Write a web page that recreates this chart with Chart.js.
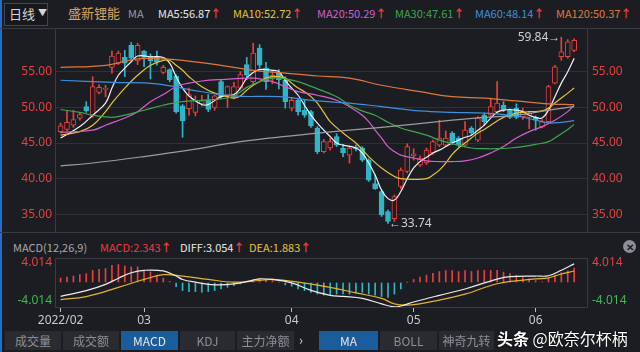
<!DOCTYPE html>
<html>
<head>
<meta charset="utf-8">
<script src="https://cdn.jsdelivr.net/npm/chart.js@4.4.0/dist/chart.umd.min.js"></script>
<style>
  html, body { margin: 0; padding: 0; background: #1c1d22; }
  #wrap { position: relative; width: 640px; height: 352px; overflow: hidden; background: #1c1d22;
          font-family: "Noto Sans CJK SC", "Noto Sans", sans-serif; }
  canvas { position: absolute; left: 0; }
  .t { position: absolute; white-space: nowrap; font-size: 11px; line-height: 14px; }
  .up { color: #ee3b3b; font-weight: bold; }
  .hl { position: absolute; height: 1px; background: #3a3b40; }
  .tab { position: absolute; top: 331px; height: 19px; line-height: 19px; text-align: center;
         background: #2a2b30; color: #8e8f95; font-size: 12px; }
  .tab.on { background: #1b5c9c; color: #e6e6e6; }
</style>
</head>
<body>
<div id="wrap">
  <div style="position:absolute;left:0;top:0;width:2px;height:352px;background:#2b6cc0"></div>

  <!-- 顶部 MA 信息栏 -->
  <div style="position:absolute;left:4px;top:3px;width:42px;height:21px;border:1px solid #45464c;background:#17181c"></div>
  <div class="t" style="left:9px;top:5px;font-size:13px;line-height:17px;color:#d6d6d6">日线</div>
  <div class="t" style="left:38px;top:6px;font-size:9px;color:#d6d6d6">▼</div>
  <div class="t" style="left:68px;top:5px;font-size:13px;line-height:16px;color:#d9a35f">盛新锂能</div>
  <div class="t" style="left:128px;top:6px;color:#9a9aa0">MA</div>
  <div class="t" style="left:158px;top:6px;color:#e8e8e8">MA5:56.87<span class="up">↑</span></div>
  <div class="t" style="left:233px;top:6px;color:#e6c23a">MA10:52.72<span class="up">↑</span></div>
  <div class="t" style="left:317px;top:6px;color:#d35fd0">MA20:50.29<span class="up">↑</span></div>
  <div class="t" style="left:395px;top:6px;color:#3ea64c">MA30:47.61<span class="up">↑</span></div>
  <div class="t" style="left:475px;top:6px;color:#3f8fdc">MA60:48.14<span class="up">↑</span></div>
  <div class="t" style="left:556px;top:6px;color:#e0773c">MA120:50.37<span class="up">↑</span></div>

  <div class="hl" style="left:0;top:28px;width:640px"></div>
  <canvas id="kChart" width="640" height="204" style="top:28px"></canvas>
  <div class="hl" style="left:0;top:232px;width:640px"></div>

  <!-- MACD 信息栏 -->
  <div class="t" style="left:13px;top:240px;color:#a9a9ae">MACD(12,26,9)</div>
  <div class="t" style="left:100px;top:240px;color:#ee3b3b">MACD:2.343<span class="up">↑</span></div>
  <div class="t" style="left:180px;top:240px;color:#e8e8e8">DIFF:3.054<span class="up">↑</span></div>
  <div class="t" style="left:249px;top:240px;color:#e6c23a">DEA:1.883<span class="up">↑</span></div>
  <div style="position:absolute;left:623px;top:240px;width:13px;height:13px;border-radius:7px;background:#8e8f95;color:#1c1d22;font-size:10px;line-height:13px;text-align:center;font-weight:bold">✕</div>

  <div class="hl" style="left:55px;top:258px;width:532px"></div>
  <canvas id="macdChart" width="640" height="72" style="top:256px"></canvas>

  <!-- 底部指标切换栏 -->
  <div class="tab" style="left:5px;width:56px">成交量</div>
  <div class="tab" style="left:63px;width:56px">成交额</div>
  <div class="tab on" style="left:121px;width:57px">MACD</div>
  <div class="tab" style="left:180px;width:55px">KDJ</div>
  <div class="tab" style="left:237px;width:57px">主力净额</div>
  <div class="t" style="left:299px;top:333px;font-size:13px;color:#d0d0d0">›</div>
  <div class="tab on" style="left:319px;width:59px">MA</div>
  <div class="tab" style="left:380px;width:57px">BOLL</div>
  <div class="tab" style="left:439px;width:55px">神奇九转</div>
  <div class="t" style="left:497px;top:328px;font-size:16px;line-height:20px;color:#ffffff;text-shadow:0 0 2px #000"><b>头条</b> @欧奈尔杯柄</div>
</div>

<script>
// K线数据（从图上读取，2022/02/10 起共 81 根）
const opens = [46.6,46.9,47.5,48.5,50.1,48.9,52.1,52.5,55.6,56.2,57.0,58.7,56.5,57.9,57.2,57.1,54.9,55.3,54.4,50.2,
  49.8,49.3,50.5,51.0,50.0,53.6,51.7,51.5,52.7,56.0,53.6,58.3,55.5,54.1,54.8,53.8,49.9,51.0,49.6,49.4,
  47.1,43.8,44.3,45.9,44.3,43.3,44.4,44.3,42.6,39.3,38.2,35.4,34.4,38.9,41.0,43.2,41.9,42.2,43.6,44.7,
  44.7,46.4,45.7,44.7,47.1,45.4,48.9,48.9,49.4,50.3,49.6,49.9,48.7,48.6,48.6,47.3,48.0,53.4,57.1,57.1,58.0];
const closes = [47.4,47.9,48.3,49.0,49.5,52.9,52.8,52.7,57.2,57.6,56.2,56.9,58.7,57.0,56.5,56.4,55.6,53.9,49.4,48.1,
  51.8,51.0,50.9,49.7,51.6,51.5,52.9,52.9,54.6,54.5,57.6,55.9,53.6,54.5,53.9,50.8,51.0,49.4,48.9,47.4,
  43.8,45.2,45.2,44.7,43.6,44.3,44.2,42.6,39.8,38.6,34.9,34.0,37.5,41.2,44.5,43.5,42.9,44.0,45.2,45.7,
  45.7,45.0,44.7,46.8,46.4,48.5,48.0,50.1,50.6,49.6,48.6,48.6,49.4,49.2,48.2,48.0,52.9,55.7,57.8,59.2,59.4];
const highs = [47.8,49.6,49.6,49.3,50.8,54.3,53.2,53.1,57.9,57.9,58.0,59.1,59.0,58.0,57.5,57.9,55.9,55.4,54.6,50.4,
  52.7,51.6,51.7,51.8,51.7,53.8,53.0,53.5,55.0,57.0,59.0,58.8,56.3,55.0,55.3,54.3,51.4,51.2,51.0,49.6,
  47.3,45.5,45.7,46.3,44.8,44.6,44.7,44.5,42.8,40.5,38.4,35.6,37.7,41.5,44.9,44.2,43.2,44.3,45.4,48.2,
  46.7,46.6,45.9,48.0,47.3,48.7,49.2,51.3,53.6,50.8,49.8,50.5,49.9,49.4,48.8,48.3,53.1,55.9,59.84,59.5,59.6];
const lows = [46.4,46.7,47.2,48.2,49.3,48.6,51.9,51.5,54.8,56.0,54.3,56.7,56.0,55.7,54.0,55.9,54.7,53.6,49.2,45.8,
  48.9,48.8,50.2,49.4,49.6,51.3,50.0,51.2,52.5,53.9,53.3,55.5,52.5,53.3,52.6,49.9,49.5,48.9,48.6,47.2,
  43.5,43.6,44.0,44.5,43.1,42.2,43.9,42.4,39.6,38.5,34.7,33.74,34.0,38.6,40.8,42.6,41.7,42.0,43.4,44.5,
  44.5,44.8,44.5,44.5,46.2,45.2,47.5,48.7,49.2,49.4,48.4,48.4,48.3,47.0,46.8,47.1,47.8,53.3,56.6,56.9,57.8];

// 均线：[K线序号, 数值]
const ma5 = [[0,45.7],[3,47.3],[5,48.9],[7,50.6],[8,52.7],[9,54.5],[10,55.5],[11,56.4],[12,57.2],[14,57.1],[16,57.0],
  [17,56.2],[18,54.3],[19,52.7],[20,51.6],[22,50.4],[23,50.4],[25,51.5],[27,51.8],[28,52.7],[29,54.1],[30,54.9],
  [31,55.3],[33,55.2],[34,55.0],[35,53.8],[36,52.7],[37,51.7],[38,50.3],[39,48.9],[40,47.8],[41,46.8],[42,45.9],
  [43,45.0],[44,44.7],[46,44.3],[47,43.6],[48,42.2],[49,40.5],[50,38.4],[51,37.2],[52,37.0],[53,38.2],[54,40.0],
  [55,41.5],[56,42.4],[57,43.0],[58,43.6],[59,44.0],[60,44.5],[61,45.0],[62,45.4],[63,45.8],[64,46.1],[65,46.8],
  [66,47.5],[67,48.5],[68,49.3],[69,49.6],[70,49.7],[71,49.6],[72,49.4],[73,48.9],[74,48.6],[75,48.5],[76,49.6],
  [77,51.5],[78,53.4],[79,55.0],[80,56.87]];
const ma10 = [[0,46.1],[3,46.6],[5,47.5],[7,49.4],[8,50.6],[10,52.7],[12,54.5],[14,55.9],[16,56.6],[17,56.6],[18,55.9],
  [19,55.2],[20,54.3],[22,52.9],[24,52.0],[26,51.5],[27,51.3],[28,51.6],[29,52.4],[30,53.1],[31,53.6],[32,54.1],
  [33,54.3],[34,54.3],[35,54.1],[36,53.4],[37,52.7],[38,52.2],[39,51.5],[40,50.6],[41,49.3],[42,48.0],[44,46.4],
  [46,45.0],[48,43.1],[50,41.5],[52,40.3],[53,40.0],[55,39.9],[57,40.0],[58,40.5],[59,41.2],[60,42.2],[61,43.4],
  [62,44.3],[63,45.0],[64,45.7],[65,46.4],[66,46.9],[67,47.5],[68,48.1],[69,48.6],[70,48.9],[71,49.2],[72,49.3],
  [73,49.4],[75,49.5],[76,49.9],[77,50.6],[78,51.3],[79,52.0],[80,52.72]];
const ma20 = [[0,46.5],[5,46.8],[7,47.5],[10,48.5],[12,49.4],[14,50.8],[16,51.8],[18,52.9],[20,53.4],[22,53.7],[25,53.9],
  [30,54.1],[33,53.6],[35,52.9],[37,52.2],[40,51.7],[43,51.0],[45,50.1],[47,48.9],[48,48.0],[49,46.8],[50,45.7],
  [51,44.5],[52,43.8],[53,43.3],[55,42.9],[57,42.5],[59,42.4],[61,42.4],[63,42.5],[65,42.9],[67,43.6],[69,44.5],
  [71,45.7],[73,46.6],[75,47.3],[77,48.2],[79,49.4],[80,50.29]];
const ma30 = [[0,49.7],[3,49.3],[5,48.9],[8,48.6],[10,48.9],[13,49.6],[16,50.3],[19,50.8],[22,51.0],[25,51.2],[27,51.6],
  [29,52.8],[31,53.6],[33,54.1],[35,54.0],[37,53.6],[40,52.6],[43,51.5],[45,50.3],[47,49.5],[49,48.9],[51,47.9],
  [53,47.1],[55,46.6],[57,46.1],[59,45.4],[61,44.9],[62,44.7],[64,44.3],[66,44.2],[68,44.2],[70,44.3],[72,44.5],
  [74,44.8],[76,45.2],[77,45.7],[78,46.3],[79,46.9],[80,47.61]];
const ma60 = [[0,53.8],[8,53.5],[15,53.3],[20,52.5],[27,51.6],[34,51.5],[40,50.9],[45,50.6],[50,50.1],[56,49.5],
  [61,49.3],[66,49.2],[71,48.8],[74,48.2],[76,47.8],[78,47.9],[80,48.14]];
const ma120 = [[0,55.6],[7,55.9],[12,56.8],[16,56.8],[19,56.6],[25,55.9],[30,55.2],[35,54.8],[40,54.4],[45,54.1],
  [50,53.1],[56,52.2],[61,51.5],[66,51.3],[71,50.9],[76,50.5],[80,50.37]];
const ma250 = [[0,41.8],[5,42.2],[13,43.1],[20,44.0],[28,45.2],[37,46.1],[40,46.4],[50,47.2],[61,48.2],[66,48.6],
  [71,48.9],[76,49.6],[80,50.1]];

// MACD 柱与 DIFF / DEA
const macdHist = [0.72,0.89,1.06,1.28,1.44,2.0,2.17,2.28,2.83,2.94,2.72,2.56,2.56,2.0,1.72,1.06,0.72,0.17,
  -0.67,-1.33,-1.5,-1.5,-1.61,-1.5,-1.33,-1.06,-0.78,-0.5,-0.22,0.17,0.5,0.61,0.5,0.33,0.06,
  -0.39,-0.61,-1.06,-1.33,-1.61,-1.89,-2.06,-2.06,-1.89,-1.89,-1.89,-1.72,-1.61,-1.89,-2.06,-2.28,-2.44,-1.89,-1.06,
  0.05,0.5,0.9,1.2,1.5,1.8,1.95,1.95,1.8,1.95,1.8,1.95,2.0,2.0,2.0,1.7,1.45,1.2,0.8,0.6,0.3,0.1,0.6,1.2,1.6,1.9,2.343];
const diffLine = [[0,-2.28],[4,-1.33],[7,-0.3],[9,0.7],[11,1.6],[13,2.0],[16,1.9],[18,1.06],[19,0.5],[21,0.06],
  [24,-0.39],[27,-0.22],[30,0.4],[31,0.61],[33,0.5],[36,-0.06],[39,-1.3],[42,-2.1],[44,-2.28],[47,-2.61],[50,-3.5],
  [52,-4.0],[53,-3.85],[55,-3.2],[59,-2.1],[63,-1.06],[68,0.55],[70,0.95],[74,1.06],[76,1.1],[78,2.0],[80,3.054]];
const deaLine = [[0,-2.8],[4,-2.3],[9,-0.8],[13,0.5],[16,1.28],[19,1.06],[23,0.5],[27,0.06],[31,0.33],[33,0.5],
  [37,0.06],[42,-0.8],[46,-1.7],[50,-2.6],[52,-3.5],[54,-3.7],[57,-3.3],[63,-1.9],[68,-0.2],[74,0.6],[76,0.75],
  [78,1.4],[80,1.883]];

// 坐标轴刻度
const priceTicks = [35, 40, 45, 50, 55];
const macdBound = 4.014;
const monthIdx = [0, 13, 36, 55, 74];
const monthLabels = ['2022/02', '03', '04', '05', '06'];

const RED = '#e8403e', CYAN = '#2fb5c7', BG = '#1c1d22', GRID = '#303136', EDGE = '#3a3b40';
const xMin = -0.87, xMax = 82.0;

const idx = opens.map((v, i) => i);
const isUp = idx.map(i => closes[i] >= opens[i]);
const toXY = arr => arr.map(p => ({ x: p[0], y: p[1] }));

function maLine(arr, color) {
  return { type: 'line', data: toXY(arr), borderColor: color, borderWidth: 1.2, pointRadius: 0,
           tension: 0.4, order: 0 };
}

function fixWidth(w) {
  return scale => { scale.width = w; scale.paddingTop = 0; scale.paddingBottom = 0; };
}

// 最高 / 最低价标注
const extremeLabels = {
  id: 'extremeLabels',
  afterDatasetsDraw(chart) {
    const { ctx, scales: { x, y } } = chart;
    const hi = highs.indexOf(Math.max(...highs));
    const lo = lows.indexOf(Math.min(...lows));
    ctx.save();
    ctx.font = '12px "Noto Sans", sans-serif';
    ctx.fillStyle = '#cfcfd2';
    ctx.textBaseline = 'middle';
    ctx.textAlign = 'right';
    ctx.fillText(highs[hi].toFixed(2) + '→', x.getPixelForValue(hi) - 1, y.getPixelForValue(highs[hi]));
    ctx.textAlign = 'left';
    ctx.fillText('←' + lows[lo].toFixed(2), x.getPixelForValue(lo) + 1, y.getPixelForValue(lows[lo]));
    ctx.restore();
  }
};

new Chart(document.getElementById('kChart'), {
  type: 'bar',
  data: {
    datasets: [
      { type: 'bar', data: idx.map(i => ({ x: i, y: [lows[i], highs[i]] })), grouped: false, barThickness: 1,
        backgroundColor: idx.map(i => isUp[i] ? RED : CYAN), order: 3 },
      { type: 'bar', data: idx.map(i => ({ x: i, y: [opens[i], closes[i]] })), grouped: false, barThickness: 5,
        backgroundColor: idx.map(i => isUp[i] ? BG : CYAN), borderColor: idx.map(i => isUp[i] ? RED : CYAN),
        borderWidth: 1, borderSkipped: false, order: 2 },
      maLine(ma250, '#9c9ca0'),
      maLine(ma120, '#e0773c'),
      maLine(ma60, '#3f8fdc'),
      maLine(ma30, '#3ea64c'),
      maLine(ma20, '#d35fd0'),
      maLine(ma10, '#e6c23a'),
      maLine(ma5, '#f2f2f2')
    ]
  },
  options: {
    responsive: false,
    animation: false,
    devicePixelRatio: 1,
    layout: { padding: 0 },
    plugins: { legend: { display: false }, tooltip: { enabled: false } },
    scales: {
      x: { type: 'linear', min: xMin, max: xMax, offset: false, display: false },
      y: {
        type: 'linear', position: 'left', min: 32.52, max: 61.13,
        afterBuildTicks: s => { s.ticks = priceTicks.map(v => ({ value: v })); },
        afterFit: fixWidth(55),
        ticks: { color: RED, font: { size: 12, family: '"Noto Sans", sans-serif' }, padding: 3,
                 callback: v => v.toFixed(2) },
        grid: { color: GRID, drawTicks: false },
        border: { color: EDGE }
      },
      y2: {
        type: 'linear', position: 'right', min: 32.52, max: 61.13,
        afterBuildTicks: s => { s.ticks = priceTicks.map(v => ({ value: v })); },
        afterFit: fixWidth(53),
        ticks: { color: RED, font: { size: 12, family: '"Noto Sans", sans-serif' }, padding: 5,
                 callback: v => v.toFixed(2) },
        grid: { drawOnChartArea: false, drawTicks: false },
        border: { color: EDGE }
      }
    }
  },
  plugins: [extremeLabels]
});

// MACD 区间上下限标签
const boundLabels = {
  id: 'boundLabels',
  afterDraw(chart) {
    const { ctx, scales: { y }, chartArea } = chart;
    ctx.save();
    ctx.font = '12px "Noto Sans", sans-serif';
    ctx.textBaseline = 'middle';
    const top = y.getPixelForValue(macdBound) + 5;
    const bot = y.getPixelForValue(-macdBound) - 6;
    ctx.fillStyle = RED;
    ctx.textAlign = 'right';
    ctx.fillText(macdBound.toFixed(3), chartArea.left - 3, top);
    ctx.textAlign = 'left';
    ctx.fillText(macdBound.toFixed(3), chartArea.right + 5, top);
    ctx.fillStyle = '#3dbb4c';
    ctx.textAlign = 'right';
    ctx.fillText((-macdBound).toFixed(3), chartArea.left - 3, bot);
    ctx.textAlign = 'left';
    ctx.fillText((-macdBound).toFixed(3), chartArea.right + 5, bot);
    ctx.restore();
  }
};

new Chart(document.getElementById('macdChart'), {
  type: 'bar',
  data: {
    datasets: [
      { type: 'bar', data: idx.map(i => ({ x: i, y: macdHist[i] })), grouped: false, barThickness: 1,
        backgroundColor: macdHist.map(v => v >= 0 ? RED : CYAN), order: 2 },
      { type: 'line', data: toXY(diffLine), borderColor: '#ececec', borderWidth: 1.2, pointRadius: 0,
        tension: 0.4, order: 0 },
      { type: 'line', data: toXY(deaLine), borderColor: '#e6b325', borderWidth: 1.2, pointRadius: 0,
        tension: 0.4, order: 1 }
    ]
  },
  options: {
    responsive: false,
    animation: false,
    devicePixelRatio: 1,
    layout: { padding: { top: 2 } },
    plugins: { legend: { display: false }, tooltip: { enabled: false } },
    scales: {
      x: {
        type: 'linear', min: xMin, max: xMax, offset: false,
        afterBuildTicks: s => { s.ticks = monthIdx.map(v => ({ value: v })); },
        afterFit: s => { s.height = 21; },
        ticks: { color: '#c9c9cc', font: { size: 12, family: '"Noto Sans", sans-serif' }, padding: 1,
                 maxRotation: 0, autoSkip: false, callback: v => monthLabels[monthIdx.indexOf(v)] },
        grid: { drawOnChartArea: false, tickLength: 5, tickColor: '#bdbdc0', offset: false },
        border: { color: EDGE }
      },
      y: {
        type: 'linear', position: 'left', min: -macdBound, max: macdBound,
        afterFit: fixWidth(55),
        ticks: { display: false },
        grid: { drawOnChartArea: false, drawTicks: false },
        border: { color: EDGE }
      },
      y2: {
        type: 'linear', position: 'right', min: -macdBound, max: macdBound,
        afterFit: fixWidth(53),
        ticks: { display: false },
        grid: { drawOnChartArea: false, drawTicks: false },
        border: { color: EDGE }
      }
    }
  },
  plugins: [boundLabels]
});
</script>
</body>
</html>
